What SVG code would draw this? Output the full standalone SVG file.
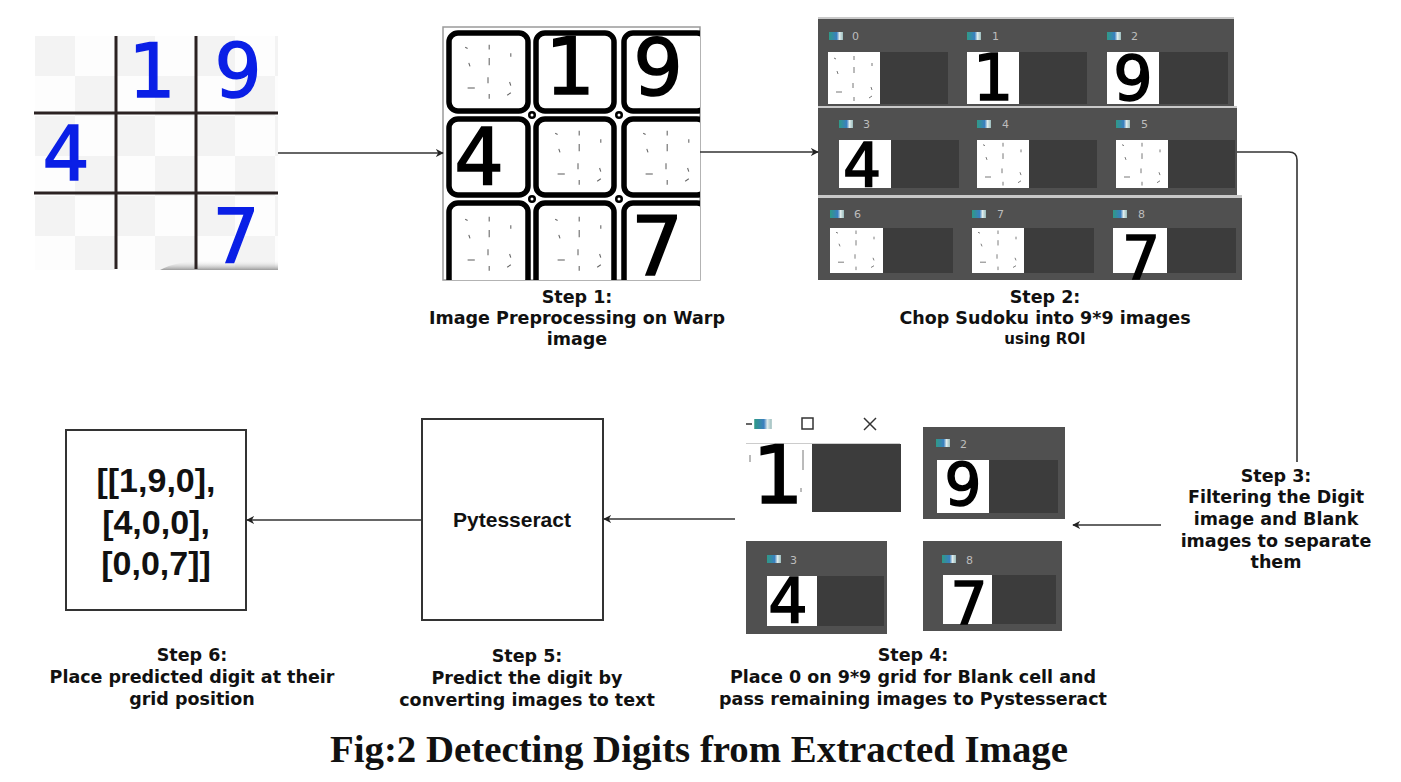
<svg xmlns="http://www.w3.org/2000/svg" xmlns:xlink="http://www.w3.org/1999/xlink" width="1401" height="782" viewBox="0 0 1401 782">
<style>
.lbl{font-family:"DejaVu Sans",Verdana,sans-serif;font-weight:bold;font-size:17.5px;fill:#111;text-anchor:middle}
.sm{font-size:15px}
.title{font-family:"Liberation Serif","DejaVu Serif",serif;font-weight:bold;font-size:38px;fill:#111;text-anchor:middle}
.blue{font-family:"DejaVu Sans",Verdana,sans-serif;fill:#0a1fe6;stroke:#0a1fe6;stroke-width:1.5;text-anchor:middle}
.dig{font-family:"DejaVu Sans",Verdana,sans-serif;fill:#000;stroke:#000;stroke-width:1.6;text-anchor:middle}
.num{font-family:"DejaVu Sans",sans-serif;font-size:11px;fill:#bdbdbd}
.strip{fill:#505050}
.dark{fill:#3c3c3c}
.cell{fill:#fff}
.box{fill:#fff;stroke:#333;stroke-width:2}
.grid{stroke:#2b2222;stroke-width:3}
.wcell{fill:#fff;stroke:#000;stroke-width:5.5}
.conn{fill:none;stroke:#333;stroke-width:1.6}
.noise line{stroke:#666;stroke-width:0.9}
</style>
<defs>
<pattern id="checker" patternUnits="userSpaceOnUse" x="35" y="36" width="80" height="80">
<rect width="80" height="80" fill="#fdfdfd"/>
<rect width="40" height="40" fill="#f3f3f3"/>
<rect x="40" y="40" width="40" height="40" fill="#f3f3f3"/>
</pattern>
<linearGradient id="shadow" x1="0" y1="0" x2="0" y2="1">
<stop offset="0" stop-color="#ffffff" stop-opacity="0"/>
<stop offset="1" stop-color="#9a9a9a"/>
</linearGradient>
<linearGradient id="ico" x1="0" y1="0" x2="1" y2="0">
<stop offset="0" stop-color="#2f9a86"/>
<stop offset="0.55" stop-color="#3a7fc0"/>
<stop offset="0.75" stop-color="#e0ecec"/>
<stop offset="1" stop-color="#9bb"/>
</linearGradient>
<g id="noise" class="noise">
<line x1="26" y1="4" x2="26" y2="8"/>
<line x1="26" y1="15" x2="26" y2="21"/>
<line x1="25" y1="31" x2="25" y2="36"/>
<line x1="26" y1="45" x2="26" y2="49"/>
<line x1="9" y1="19" x2="10" y2="22"/>
<line x1="44" y1="11" x2="44" y2="14"/>
<line x1="43" y1="35" x2="44" y2="38"/>
<line x1="8" y1="40" x2="14" y2="40"/>
<line x1="41" y1="46" x2="44" y2="44"/>
<line x1="6" y1="6" x2="8" y2="7"/>
</g>
<symbol id="icon" viewBox="0 0 14 8" width="14" height="8">
<rect width="14" height="8" fill="url(#ico)"/>
</symbol>
<marker id="arr" viewBox="0 0 10 10" refX="9" refY="5" markerWidth="8" markerHeight="8" markerUnits="userSpaceOnUse" orient="auto">
<path d="M0,0 L10,5 L0,10 L3,5 z" fill="#222"/>
</marker>
<clipPath id="c1"><rect x="443" y="27" width="257" height="253"/></clipPath>
<clipPath id="c3"><rect x="818" y="198" width="424" height="82"/></clipPath>
</defs>

<rect width="1401" height="782" fill="#fff"/>

<!-- Original sudoku -->
<g id="node-sudoku">
<rect x="35" y="36" width="243" height="234" fill="url(#checker)"/>
<path d="M160,270 Q175,261 210,260 L278,260 L278,270 Z" fill="url(#shadow)"/>
<line class="grid" x1="116" y1="36" x2="116" y2="269"/>
<line class="grid" x1="196" y1="36" x2="196" y2="269"/>
<line class="grid" x1="34" y1="113" x2="278" y2="113"/>
<line class="grid" x1="34" y1="193" x2="278" y2="193"/>
<text class="blue" x="152" y="97" font-size="74">1</text>
<text class="blue" x="238" y="97" font-size="74">9</text>
<text class="blue" x="66" y="180" font-size="74">4</text>
<text class="blue" x="236" y="262" font-size="74">7</text>
</g>

<!-- Step 1 image -->
<g id="node-step1">
<rect x="443" y="27" width="257" height="253" fill="#fff" stroke="#9a9a9a" stroke-width="1.5"/>
<g clip-path="url(#c1)">
<rect class="wcell" x="449" y="33" width="79" height="78" rx="9"/>
<rect class="wcell" x="536" y="33" width="78" height="78" rx="9"/>
<rect class="wcell" x="624" y="33" width="82" height="78" rx="9"/>
<rect class="wcell" x="449" y="119" width="79" height="76" rx="9"/>
<rect class="wcell" x="536" y="119" width="78" height="76" rx="9"/>
<rect class="wcell" x="624" y="119" width="82" height="76" rx="9"/>
<rect class="wcell" x="449" y="203" width="79" height="85" rx="9"/>
<rect class="wcell" x="536" y="203" width="78" height="85" rx="9"/>
<rect class="wcell" x="624" y="203" width="82" height="85" rx="9"/>
<use xlink:href="#noise" href="#noise" transform="translate(458,40) scale(1.2)"/>
<use xlink:href="#noise" href="#noise" transform="translate(548,126) scale(1.2)"/>
<use xlink:href="#noise" href="#noise" transform="translate(636,126) scale(1.2)"/>
<use xlink:href="#noise" href="#noise" transform="translate(458,212) scale(1.2)"/>
<use xlink:href="#noise" href="#noise" transform="translate(548,212) scale(1.2)"/>
<text class="dig" x="570" y="94" font-size="78">1</text>
<text class="dig" x="658" y="95" font-size="78">9</text>
<text class="dig" x="479" y="185" font-size="78">4</text>
<text class="dig" x="657" y="275" font-size="82">7</text>
</g>
<circle cx="532" cy="115" r="4" fill="#000"/><circle cx="532" cy="115" r="1.5" fill="#fff"/>
<circle cx="619" cy="115" r="4" fill="#000"/><circle cx="619" cy="115" r="1.5" fill="#fff"/>
<circle cx="532" cy="199" r="4" fill="#000"/><circle cx="532" cy="199" r="1.5" fill="#fff"/>
<circle cx="619" cy="199" r="4" fill="#000"/><circle cx="619" cy="199" r="1.5" fill="#fff"/>
</g>

<!-- Step 2 image -->
<g id="node-step2">
<rect x="818" y="17" width="416" height="2" fill="#c9c9c9"/>
<rect class="strip" x="818" y="19" width="416" height="87"/>
<rect x="818" y="106" width="419" height="2" fill="#c9c9c9"/>
<rect class="strip" x="818" y="108" width="419" height="87"/>
<rect x="818" y="195" width="424" height="3" fill="#c9c9c9"/>
<rect class="strip" x="818" y="198" width="424" height="82"/>
<!-- strip 1 -->
<use href="#icon" xlink:href="#icon" x="829" y="32"/><text class="num" x="852" y="40">0</text>
<rect class="cell" x="828" y="52" width="52" height="52"/><rect class="dark" x="880" y="52" width="68" height="52"/>
<use href="#noise" xlink:href="#noise" x="828" y="52"/>
<use href="#icon" xlink:href="#icon" x="967" y="32"/><text class="num" x="992" y="40">1</text>
<rect class="cell" x="967" y="52" width="52" height="52"/><rect class="dark" x="1019" y="52" width="68" height="52"/>
<text class="dig" x="993" y="100" font-size="64">1</text>
<use href="#icon" xlink:href="#icon" x="1107" y="32"/><text class="num" x="1131" y="40">2</text>
<rect class="cell" x="1107" y="52" width="52" height="52"/><rect class="dark" x="1159" y="52" width="69" height="52"/>
<text class="dig" x="1133" y="100" font-size="62">9</text>
<!-- strip 2 -->
<use href="#icon" xlink:href="#icon" x="839" y="120"/><text class="num" x="863" y="128">3</text>
<rect class="cell" x="839" y="140" width="52" height="48"/><rect class="dark" x="891" y="140" width="68" height="48"/>
<text class="dig" x="862" y="186" font-size="60">4</text>
<use href="#icon" xlink:href="#icon" x="977" y="120"/><text class="num" x="1002" y="128">4</text>
<rect class="cell" x="977" y="140" width="52" height="48"/><rect class="dark" x="1029" y="140" width="68" height="48"/>
<use href="#noise" xlink:href="#noise" transform="translate(977,139) scale(1,0.95)"/>
<use href="#icon" xlink:href="#icon" x="1116" y="120"/><text class="num" x="1141" y="128">5</text>
<rect class="cell" x="1116" y="140" width="52" height="48"/><rect class="dark" x="1168" y="140" width="67" height="48"/>
<use href="#noise" xlink:href="#noise" transform="translate(1116,139) scale(1,0.95)"/>
<!-- strip 3 -->
<use href="#icon" xlink:href="#icon" x="830" y="210"/><text class="num" x="854" y="218">6</text>
<rect class="cell" x="830" y="228" width="53" height="45"/><rect class="dark" x="883" y="228" width="70" height="45"/>
<use href="#noise" xlink:href="#noise" transform="translate(830,227) scale(1,0.88)"/>
<use href="#icon" xlink:href="#icon" x="972" y="210"/><text class="num" x="997" y="218">7</text>
<rect class="cell" x="972" y="228" width="52" height="45"/><rect class="dark" x="1024" y="228" width="70" height="45"/>
<use href="#noise" xlink:href="#noise" transform="translate(972,227) scale(1,0.88)"/>
<use href="#icon" xlink:href="#icon" x="1113" y="210"/><text class="num" x="1138" y="218">8</text>
<rect class="cell" x="1113" y="228" width="54" height="45"/><rect class="dark" x="1167" y="228" width="69" height="45"/>
<g clip-path="url(#c3)"><text class="dig" x="1141" y="279" font-size="60">7</text></g>
</g>

<!-- Step 4 image -->
<g id="node-step4">
<line x1="746" y1="424" x2="752" y2="424" stroke="#333" stroke-width="1.5"/>
<use href="#icon" xlink:href="#icon" x="753" y="419" width="20" height="10"/>
<rect x="802" y="418" width="11" height="11" fill="none" stroke="#333" stroke-width="1.5"/>
<line x1="864" y1="418" x2="876" y2="430" stroke="#333" stroke-width="1.5"/>
<line x1="876" y1="418" x2="864" y2="430" stroke="#333" stroke-width="1.5"/>
<line x1="746" y1="443.5" x2="900" y2="443.5" stroke="#ccc" stroke-width="1"/>
<rect class="cell" x="746" y="444" width="66" height="68"/>
<rect class="dark" x="812" y="444" width="89" height="68"/>
<text class="dig" x="778" y="503" font-size="80">1</text>
<g class="noise"><line x1="750" y1="455" x2="750" y2="462"/><line x1="803" y1="450" x2="803" y2="470"/><line x1="801" y1="488" x2="801" y2="492"/></g>

<rect class="strip" x="923" y="427" width="142" height="92"/>
<use href="#icon" xlink:href="#icon" x="936" y="439"/><text class="num" x="960" y="448">2</text>
<rect class="cell" x="937" y="460" width="52" height="53"/><rect class="dark" x="989" y="460" width="69" height="53"/>
<text class="dig" x="963" y="505" font-size="58">9</text>

<rect class="strip" x="746" y="541" width="141" height="93"/>
<use href="#icon" xlink:href="#icon" x="767" y="555"/><text class="num" x="790" y="564">3</text>
<rect class="cell" x="767" y="576" width="50" height="50"/><rect class="dark" x="817" y="576" width="67" height="50"/>
<text class="dig" x="788" y="623" font-size="62">4</text>

<rect class="strip" x="923" y="541" width="139" height="90"/>
<use href="#icon" xlink:href="#icon" x="942" y="555"/><text class="num" x="966" y="564">8</text>
<rect class="cell" x="943" y="575" width="49" height="49"/><rect class="dark" x="992" y="575" width="64" height="49"/>
<text class="dig" x="969" y="624" font-size="58">7</text>
</g>

<!-- Pytesseract -->
<g id="node-pytesseract">
<rect class="box" x="422" y="419" width="181" height="201"/>
<text x="512" y="527" font-family="'Liberation Sans',Arial,sans-serif" font-weight="bold" font-size="21" text-anchor="middle" fill="#111">Pytesseract</text>
</g>

<!-- Result -->
<g id="node-result">
<rect class="box" x="66" y="430" width="180" height="180"/>
<g font-family="'Liberation Sans',Arial,sans-serif" font-weight="bold" font-size="34" text-anchor="middle" fill="#111">
<text x="156" y="492">[[1,9,0],</text>
<text x="156" y="534">[4,0,0],</text>
<text x="156" y="575">[0,0,7]]</text>
</g>
</g>

<!-- Connectors -->
<g id="connectors">
<line class="conn" x1="278" y1="153" x2="443" y2="153" marker-end="url(#arr)"/>
<line class="conn" x1="700" y1="152" x2="818" y2="152" marker-end="url(#arr)"/>
<path class="conn" d="M1237,152 H1289 Q1297,152 1297,160 V462"/>
<line class="conn" x1="1161" y1="525" x2="1073" y2="525" marker-end="url(#arr)"/>
<line class="conn" x1="735" y1="519" x2="604" y2="519" marker-end="url(#arr)"/>
<line class="conn" x1="422" y1="520" x2="247" y2="520" marker-end="url(#arr)"/>
</g>

<!-- Labels -->
<g id="label-step1">
<text class="lbl" x="577" y="303">Step 1:</text>
<text class="lbl" x="577" y="324">Image Preprocessing on Warp</text>
<text class="lbl" x="577" y="345">image</text>
</g>
<g id="label-step2">
<text class="lbl" x="1045" y="303">Step 2:</text>
<text class="lbl" x="1045" y="324">Chop Sudoku into 9*9 images</text>
<text class="lbl sm" x="1045" y="344">using ROI</text>
</g>
<g id="label-step3">
<text class="lbl" x="1276" y="482">Step 3:</text>
<text class="lbl" x="1276" y="503">Filtering the Digit</text>
<text class="lbl" x="1276" y="525">image and Blank</text>
<text class="lbl" x="1276" y="547">images to separate</text>
<text class="lbl" x="1276" y="568">them</text>
</g>
<g id="label-step4">
<text class="lbl" x="913" y="661">Step 4:</text>
<text class="lbl" x="913" y="683">Place 0 on 9*9 grid for Blank cell and</text>
<text class="lbl" x="913" y="705">pass remaining images to Pystesseract</text>
</g>
<g id="label-step5">
<text class="lbl" x="527" y="662">Step 5:</text>
<text class="lbl" x="527" y="684">Predict the digit by</text>
<text class="lbl" x="527" y="706">converting images to text</text>
</g>
<g id="label-step6">
<text class="lbl" x="192" y="661">Step 6:</text>
<text class="lbl" x="192" y="683">Place predicted digit at their</text>
<text class="lbl" x="192" y="705">grid position</text>
</g>
<text class="title" x="699" y="762" textLength="738" lengthAdjust="spacingAndGlyphs">Fig:2 Detecting Digits from Extracted Image</text>
</svg>
